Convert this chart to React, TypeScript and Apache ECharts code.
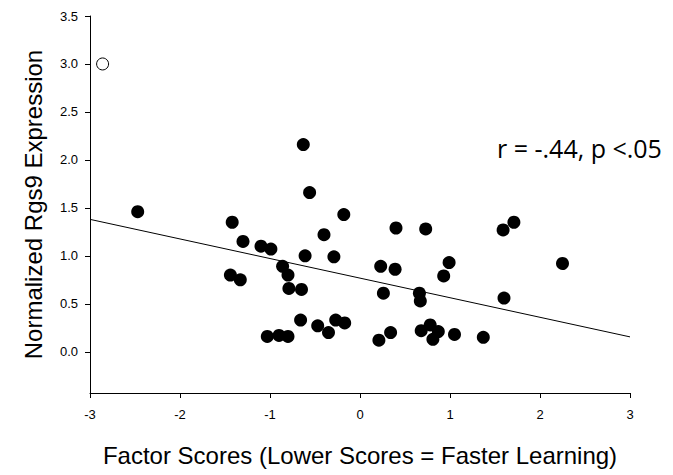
import React, { useEffect, useRef } from "react";
import * as echarts from "echarts";

const factorScores = [
  -2.47, -0.63, -0.56, -0.18, -1.42, -0.4, -1.3, -1.1, -0.99, -0.61, -0.29,
  -0.86, -0.8, -1.44, -1.33, -0.79, -0.65, -0.66, -0.47, -0.27, -0.17, -0.35,
  -1.03, -0.9, -0.8,
  0.4, 0.73, 1.59, 1.71, 0.23, 0.39, 0.99, 0.93, 2.25, 0.26, 0.66, 0.67, 1.6,
  0.34, 0.21, 0.68, 0.78, 0.87, 0.81, 1.05, 1.37,
];
const rgs9Expression = [
  1.46, 2.16, 1.66, 1.43, 1.35, 1.22, 1.15, 1.1, 1.07, 1.0, 0.99,
  0.89, 0.8, 0.8, 0.75, 0.66, 0.65, 0.33, 0.27, 0.33, 0.3, 0.2,
  0.16, 0.17, 0.16,
  1.29, 1.28, 1.27, 1.35, 0.89, 0.86, 0.93, 0.79, 0.92, 0.61, 0.61, 0.53, 0.56,
  0.2, 0.12, 0.22, 0.28, 0.21, 0.13, 0.18, 0.15,
];
const outlierX = [-2.86];
const outlierY = [3.0];
const regressionX = [-3, 3];
const regressionY = [1.38, 0.155];
const yTickValues = [0, 0.5, 1, 1.5, 2, 2.5, 3, 3.5];
const xTickValues = [-3, -2, -1, 0, 1, 2, 3];
const annotation = "r = -.44, p <.05";

export default function App() {
  const ref = useRef<HTMLDivElement>(null);
  useEffect(() => {
    if (!ref.current) return;
    const chart = echarts.init(ref.current, null, { renderer: "svg" });
    const labelFont = "Liberation Sans, Arial, sans-serif";
    chart.setOption({
      animation: false,
      backgroundColor: "#fff",
      grid: { left: 82, right: 43, top: 8, bottom: 82 },
      xAxis: {
        type: "value",
        min: -3,
        max: 3,
        interval: 1,
        name: "Factor Scores (Lower Scores = Faster Learning)",
        nameLocation: "middle",
        nameGap: 50,
        nameTextStyle: { color: "#000", fontFamily: labelFont, fontSize: 24 },
        splitLine: { show: false },
        axisLine: { show: true, onZero: false, lineStyle: { color: "#000", width: 1 } },
        axisTick: { show: true, length: 5, lineStyle: { color: "#000" }, customValues: xTickValues },
        axisLabel: {
          color: "#000",
          fontFamily: labelFont,
          fontSize: 13,
          margin: 15,
          customValues: xTickValues,
          formatter: (v: number) => String(v),
        },
      },
      yAxis: {
        type: "value",
        min: -0.43,
        max: 3.5,
        name: "Normalized Rgs9 Expression",
        nameLocation: "middle",
        nameRotate: 90,
        nameGap: 45,
        nameTextStyle: { color: "#000", fontFamily: labelFont, fontSize: 24 },
        splitLine: { show: false },
        axisLine: { show: true, onZero: false, lineStyle: { color: "#000", width: 1 } },
        axisTick: { show: true, length: 5, lineStyle: { color: "#000" }, customValues: yTickValues },
        axisLabel: {
          color: "#000",
          fontFamily: labelFont,
          fontSize: 13,
          margin: 12,
          customValues: yTickValues,
          formatter: (v: number) => v.toFixed(1),
        },
      },
      series: [
        {
          type: "line",
          data: regressionX.map((x, i) => [x, regressionY[i]]),
          showSymbol: false,
          symbol: "none",
          lineStyle: { color: "#000", width: 1 },
          silent: true,
          z: 1,
        },
        {
          type: "scatter",
          data: factorScores.map((x, i) => [x, rgs9Expression[i]]),
          symbol: "circle",
          symbolSize: 13,
          itemStyle: { color: "#000", opacity: 1 },
          z: 2,
        },
        {
          type: "scatter",
          data: outlierX.map((x, i) => [x, outlierY[i]]),
          symbol: "circle",
          symbolSize: 12,
          itemStyle: { color: "#fff", borderColor: "#000", borderWidth: 1, opacity: 1 },
          z: 2,
        },
      ],
      graphic: [
        {
          type: "text",
          left: 489,
          top: 127,
          style: {
            text: annotation,
            fill: "#000",
            fontFamily: "Open Sans, Noto Sans, sans-serif",
            fontSize: 25,
          },
        },
      ],
    });
    return () => chart.dispose();
  }, []);
  return <div ref={ref} style={{ width: 665, height: 467 }} />;
}
